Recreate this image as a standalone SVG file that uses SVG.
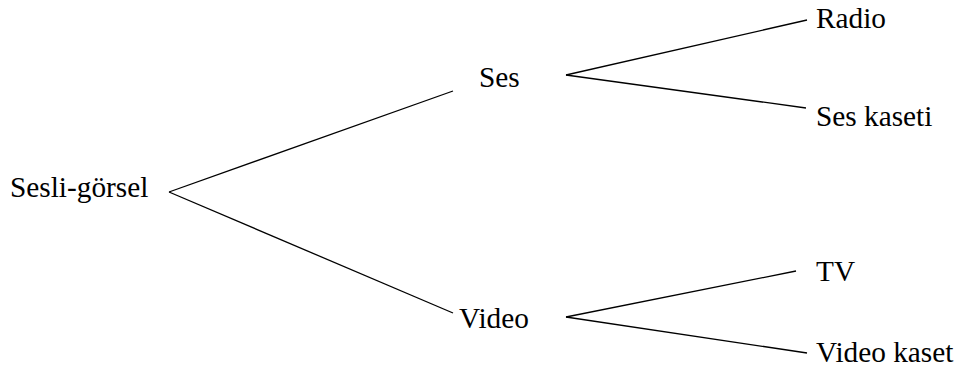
<svg xmlns="http://www.w3.org/2000/svg" width="962" height="372" viewBox="0 0 962 372">
<style>
line{stroke:#000;stroke-width:1.3}
.t{font-family:"Liberation Serif","Times New Roman",serif;font-size:29.3px;fill:#000}
</style>
<rect width="962" height="372" fill="#fff"/>
<g id="connectors">
<line x1="453" y1="91" x2="169" y2="192"/>
<line x1="169" y1="192" x2="453" y2="313"/>
<line x1="807" y1="20" x2="566" y2="75"/>
<line x1="566" y1="75" x2="806" y2="108"/>
<line x1="796" y1="271" x2="566" y2="317"/>
<line x1="566" y1="317" x2="807" y2="353"/>
</g>
<g id="sesli-gorsel"><text class="t" x="10" y="197">Sesli-görsel</text></g>
<g id="ses"><text class="t" x="479" y="87">Ses</text></g>
<g id="video"><text class="t" x="459" y="328">Video</text></g>
<g id="radio"><text class="t" x="816" y="28">Radio</text></g>
<g id="ses-kaseti"><text class="t" x="816" y="126">Ses kaseti</text></g>
<g id="tv"><text class="t" x="816" y="281">TV</text></g>
<g id="video-kaset"><text class="t" x="816" y="362">Video kaset</text></g>
</svg>
